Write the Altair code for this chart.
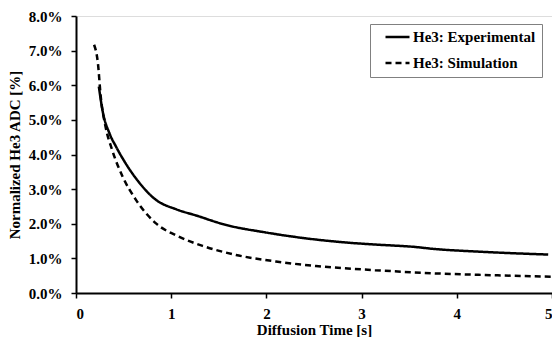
import altair as alt
import pandas as pd

exp_t = [0.24, 0.28, 0.35, 0.42, 0.52, 0.63, 0.84, 1.05, 1.26, 1.57, 1.99, 2.41, 2.83, 3.14, 3.56, 3.77, 4.19, 4.96]
exp_v = [5.96, 5.25, 4.62, 4.23, 3.75, 3.31, 2.69, 2.42, 2.24, 1.97, 1.75, 1.58, 1.46, 1.40, 1.33, 1.27, 1.20, 1.11]

sim_t = [0.19, 0.23, 0.26, 0.31, 0.38, 0.49, 0.63, 0.84, 1.08, 1.33, 1.68, 2.10, 2.52, 3.14, 3.74, 4.43, 5.0]
sim_v = [7.17, 6.64, 5.67, 4.81, 4.13, 3.36, 2.69, 2.01, 1.63, 1.36, 1.10, 0.91, 0.78, 0.66, 0.57, 0.51, 0.47]

series_names = ["He3: Experimental", "He3: Simulation"]

rows = []
for t, v in zip(exp_t, exp_v):
    rows.append({"t": t, "v": v / 100, "series": series_names[0]})
for t, v in zip(sim_t, sim_v):
    rows.append({"t": t, "v": v / 100, "series": series_names[1]})
df = pd.DataFrame(rows)

FONT = "Liberation Serif"
axis_style = dict(
    domainColor="black", domainWidth=2, tickColor="black", tickWidth=1.5,
    labelFont=FONT, labelFontSize=15, labelFontWeight="bold", labelColor="black",
    titleFont=FONT, titleFontSize=15, titleFontWeight="bold", titleColor="black",
    grid=False, tickSize=5,
)

chart = alt.Chart(df).mark_line(color="black", strokeWidth=2.5, interpolate="monotone").encode(
    x=alt.X("t:Q", scale=alt.Scale(domain=[0, 5], nice=False),
            axis=alt.Axis(title="Diffusion Time [s]", values=[0, 1, 2, 3, 4, 5], format="d",
                          labelPadding=8, titlePadding=1, **axis_style)),
    y=alt.Y("v:Q", scale=alt.Scale(domain=[0, 0.08], nice=False),
            axis=alt.Axis(title="Normalized He3 ADC [%]", values=[i / 100 for i in range(9)],
                          format=".1%", labelPadding=9, titlePadding=6, **axis_style)),
    strokeDash=alt.StrokeDash("series:N", scale=alt.Scale(domain=series_names, range=[[1, 0], [6, 4]]),
                              legend=alt.Legend(title=None, orient="none", legendX=294, legendY=8,
                                                symbolType="stroke", symbolStrokeWidth=2.5, symbolSize=576,
                                                symbolStrokeColor="black", symbolOffset=8,
                                                clipHeight=14,
                                                fillColor="white", strokeColor="#808080",
                                                padding=6, rowPadding=11, labelOffset=2,
                                                labelFont=FONT, labelFontSize=15, labelFontWeight="bold",
                                                labelColor="black", labelLimit=300)),
    detail="series:N",
).properties(
    width=476, height=277,
    padding={"left": 68, "top": 8, "right": 0, "bottom": 44},
    autosize=alt.AutoSizeParams(type="none"),
).configure_view(
    stroke="black", strokeWidth=1.5
).configure(background="white")

chart.save("out.html", embed_options={"renderer": "svg", "actions": False})
